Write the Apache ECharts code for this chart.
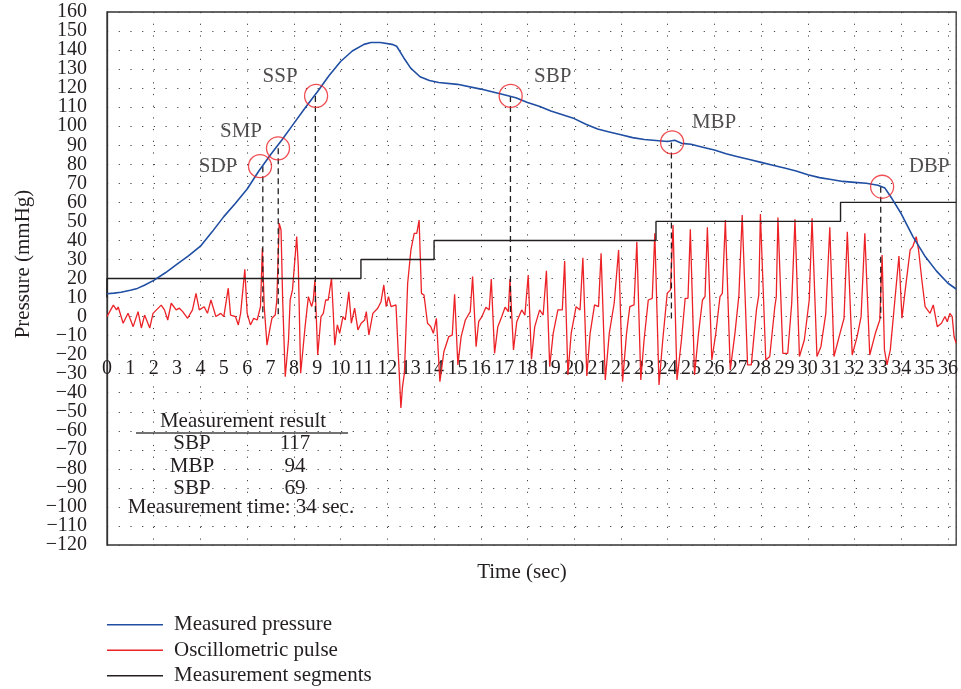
<!DOCTYPE html>
<html>
<head>
<meta charset="utf-8">
<script src="https://cdn.jsdelivr.net/npm/echarts@6/dist/echarts.min.js"></script>
<style>html,body{margin:0;padding:0;background:#fff;}#chart{width:961px;height:689px;}</style>
</head>
<body>
<div id="chart"></div>
<script>
// ---- data ----
const measuredPressure = [[0,12],[0.3,12.3],[0.6,12.8],[1,13.8],[1.3,14.8],[1.6,16.5],[2,19],[2.5,23],[3,27.5],[3.5,32],[4,37],[4.5,44.5],[5,52.5],[5.5,59.5],[6,67],[6.5,76.5],[7,85],[7.5,93],[8,101.5],[8.5,110],[9,118],[9.5,126.5],[10,134],[10.5,139.5],[11,143],[11.3,144],[11.7,144],[12.2,143],[12.4,142],[12.7,136],[13,130.5],[13.4,126],[13.8,124],[14.2,123],[15,122],[16,119.5],[17,116.5],[17.5,115],[18,112.5],[18.5,110.5],[19,108],[19.5,106],[20,104],[20.5,101],[21,98.5],[21.5,97],[22,95.5],[22.5,94],[23,93],[23.5,92.5],[24,92],[24.3,92.6],[24.6,91],[25,90.5],[25.5,89],[26,87.5],[26.5,85.5],[27,84],[27.5,82.5],[28,81],[28.5,79.5],[29,78],[29.5,76.5],[30,74.5],[30.5,73],[31,72],[31.5,71],[32,70.5],[32.5,70],[33,69],[33.3,67.5],[33.6,62],[34,54],[34.5,42],[35,32],[35.5,24],[36,17.5],[36.35,14.5]];

const oscillometricPulse = [[0,0],[0.27,6],[0.41,3.5],[0.48,5],[0.69,-3.5],[0.9,1.7],[1.12,-5.3],[1.33,2.6],[1.47,-6],[1.61,0.8],[1.83,-6],[1.97,1.7],[2.32,6],[2.46,3.5],[2.6,-1.8],[2.75,7],[2.96,3.5],[3.1,4.4],[3.24,2.6],[3.45,-0.9],[3.66,3.5],[3.81,12.2],[3.95,3.5],[4.16,5.2],[4.3,1.7],[4.45,8.7],[4.66,0],[4.87,1.7],[5.0,0],[5.19,14.9],[5.29,0.8],[5.5,0],[5.62,-4.4],[5.72,1.7],[5.9,24.8],[6.0,1.7],[6.14,-4.4],[6.28,-0.9],[6.43,-1.8],[6.57,5.2],[6.65,35.9],[6.73,5.2],[6.85,-15],[6.99,-5.3],[7.06,-0.9],[7.2,0.8],[7.27,8.7],[7.37,49],[7.45,45.5],[7.52,8.7],[7.63,-31.6],[7.77,-12.3],[7.84,8.7],[7.94,14],[8.02,14],[8.12,42],[8.19,26.2],[8.29,-29.8],[8.48,-5.3],[8.62,10.5],[8.76,5.2],[8.83,8.7],[8.9,19.2],[9.02,-20.2],[9.16,0],[9.26,1.7],[9.36,8.7],[9.47,8.7],[9.61,20.1],[9.68,3.5],[9.75,-15],[9.86,-4.4],[9.96,-8.8],[10.1,0],[10.2,-1.8],[10.35,13],[10.46,-3.5],[10.6,4.4],[10.74,-7],[10.88,-3.5],[11.03,-1.8],[11.1,2.6],[11.21,-9.7],[11.38,1.7],[11.59,4.4],[11.73,7.8],[11.85,16.6],[11.95,5.2],[12.05,10.5],[12.16,5.2],[12.37,6.1],[12.51,-29.8],[12.58,-48],[12.65,-36.8],[12.73,-29.8],[12.87,17.5],[13.01,35],[13.15,43.7],[13.26,43.7],[13.36,50.7],[13.46,12.2],[13.57,11.3],[13.72,-3.5],[13.86,-5.3],[13.97,-8.8],[14.1,-0.9],[14.25,-34.2],[14.42,-18.5],[14.63,-10.5],[14.78,-9.7],[14.88,11.7],[15.02,-25.4],[15.16,-10.5],[15.34,-1.8],[15.55,2.6],[15.65,21],[15.8,-15.8],[15.91,-2.7],[16.05,0],[16.22,4.9],[16.36,3.5],[16.45,19.7],[16.59,-19.3],[16.73,-5.3],[16.9,0],[17.04,4.9],[17.18,2.6],[17.25,19.7],[17.4,-17.5],[17.54,-2.7],[17.75,3.5],[17.89,0.8],[18.03,21.8],[18.17,-22.4],[18.31,-5.3],[18.52,3.5],[18.67,0.8],[18.81,24.1],[18.95,-26.3],[19.1,-8.8],[19.3,3.5],[19.49,3.5],[19.59,29.2],[19.73,-30.7],[19.87,-8.8],[20.08,5.2],[20.25,3.5],[20.37,30.9],[20.54,-31.2],[20.68,-8.8],[20.87,6.1],[21.04,5.2],[21.15,33.2],[21.33,-33.3],[21.5,-8.8],[21.71,7],[21.78,7.8],[21.9,35],[22.07,-34.2],[22.24,-8.8],[22.38,5.2],[22.56,6.1],[22.68,39.3],[22.85,-33.3],[22.99,-12.3],[23.17,8.7],[23.34,9.6],[23.45,43.7],[23.63,-35.9],[23.79,-12.3],[23.98,12.2],[24.12,14],[24.23,48.1],[24.4,-33.3],[24.59,-12.3],[24.75,9.6],[24.87,9.6],[24.97,45.8],[25.15,-30.7],[25.32,-8.8],[25.49,8.7],[25.6,10.5],[25.7,46.9],[25.89,-22.8],[26.06,-8.8],[26.24,10.5],[26.34,12.2],[26.47,50.7],[26.68,-28],[26.88,-8.8],[27.05,11.3],[27.19,53.4],[27.42,-25.4],[27.58,-25.4],[27.8,3.5],[27.9,11.3],[27.97,53.9],[28.2,-22.8],[28.37,-21],[28.58,4.4],[28.65,10.5],[28.72,52],[28.93,-19.3],[29.14,-19.3],[29.31,7],[29.45,51.1],[29.64,-21],[29.85,-12.3],[30.06,8.7],[30.18,51.6],[30.39,-21],[30.56,-15.8],[30.77,1.7],[30.94,46.9],[31.12,-21],[31.34,-10.5],[31.55,-0.9],[31.69,44.6],[31.9,-20.2],[32.11,-10.5],[32.28,0],[32.44,43.7],[32.65,-20.2],[32.89,-8.8],[33.08,-1.8],[33.18,32.4],[33.28,-17.5],[33.39,-25.4],[33.53,-17.5],[33.7,5.2],[33.9,31.8],[34.03,-0.9],[34.17,14],[34.38,35],[34.49,36.7],[34.64,42],[34.74,35],[34.88,19.2],[35.02,5.2],[35.23,1.7],[35.37,6.1],[35.54,-5.3],[35.72,-3.5],[35.87,0],[35.97,-2.7],[36.08,1.7],[36.18,0],[36.26,-10.5],[36.35,-14]];

const segmentTimes = [0, 10.87, 14.0, 23.5, 31.4, 36.35];
const segmentLevels = [20, 30, 40, 50, 60];
const segmentStart = 10;

const markerNames = ['SDP','SMP','SSP','SBP','MBP','DBP'];
const markerTimes = [6.55, 7.32, 8.95, 17.28, 24.19, 33.18];
const markerPressures = [79, 88.4, 115.9, 115.9, 91.5, 68.2];
const dropTimes = [6.67, 7.33, 8.92, 17.27, 24.16, 33.12];
const dropBottom = -1;

const resultTitle = 'Measurement result';
const resultNames = ['SBP','MBP','SBP'];
const resultValues = [117, 94, 69];
const resultTime = 'Measurement time: 34 sec.';

const xTickStep = 1, xGridStep = 2, yTickStep = 10;
const xMin = 0, xMax = 36.35, yMin = -120, yMax = 160;

// ---- styles ----
const FONT = '"Liberation Serif", "DejaVu Serif", serif';
const TXT = '#231f20';
const BLUE = '#1f4ea3';
const RED = '#ec2227';
const BLACK = '#231f20';
const labelOffsets = [[-42,0],[-37,-17],[-36,-19],[42,-19],[42,-20],[47,-20]];

const segData = [[segmentTimes[0], segmentStart]];
segmentLevels.forEach((lv, i) => {
  segData.push([segmentTimes[i], lv]);
  segData.push([segmentTimes[i+1], lv]);
  if (i + 1 < segmentLevels.length) segData.push([segmentTimes[i+1], segmentLevels[i+1]]);
});

const dropSeries = dropTimes.map((t, i) => ({
  type: 'line', symbol: 'none', silent: true, z: 4,
  data: [[t, markerPressures[i]], [t, dropBottom]],
  lineStyle: { color: BLACK, width: 1.3, type: [6, 4] }
}));

const chart = echarts.init(document.getElementById('chart'), null, { renderer: 'canvas' });
const rowsY = [443, 466, 488];
const graphics = [
  { type: 'text', x: 23, y: 264, rotation: Math.PI / 2,
    style: { text: 'Pressure (mmHg)', font: '21px ' + FONT, fill: TXT, textAlign: 'center', textVerticalAlign: 'middle' } },
  { type: 'text', x: 522, y: 572,
    style: { text: 'Time (sec)', font: '21px ' + FONT, fill: TXT, textAlign: 'center', textVerticalAlign: 'middle' } },
  { type: 'text', x: 243, y: 421, z: 10,
    style: { text: resultTitle, font: '21px ' + FONT, fill: TXT, textAlign: 'center', textVerticalAlign: 'middle' } },
  { type: 'line', shape: { x1: 136, y1: 433, x2: 348, y2: 433 }, z: 10, style: { stroke: '#444', lineWidth: 1.3 } },
  { type: 'text', x: 241, y: 507, z: 10,
    style: { text: resultTime, font: '21px ' + FONT, fill: TXT, textAlign: 'center', textVerticalAlign: 'middle' } }
];
resultNames.forEach((n, i) => {
  graphics.push({ type: 'text', x: 192, y: rowsY[i], z: 10,
    style: { text: n, font: '21px ' + FONT, fill: TXT, textAlign: 'center', textVerticalAlign: 'middle' } });
  graphics.push({ type: 'text', x: 295, y: rowsY[i], z: 10,
    style: { text: String(resultValues[i]), font: '21px ' + FONT, fill: TXT, textAlign: 'center', textVerticalAlign: 'middle' } });
});

const yFmt = v => String(v).replace('-', '\u2212');
const yLabelBase = { margin: 20, fontSize: 20, fontFamily: FONT, color: TXT };

const option = {
  animation: false,
  backgroundColor: '#fff',
  textStyle: { fontFamily: FONT },
  grid: { left: 107, right: -2, top: 12, bottom: 144, show: true, borderColor: '#333', borderWidth: 1.3, containLabel: false },
  legend: {
    data: ['Measured pressure', 'Oscillometric pulse', 'Measurement segments'],
    orient: 'vertical', left: 107, top: 612, padding: 0, itemWidth: 56, itemHeight: 1.5, itemGap: 0,
    icon: 'path://M0,0H56V1.5H0Z',
    textStyle: { fontFamily: FONT, fontSize: 21, color: TXT, lineHeight: 25.5, padding: [0, 0, 0, 6] }
  },
  xAxis: [
    { type: 'value', min: xMin, max: xMax, interval: xTickStep, position: 'bottom', offset: -190,
      axisLine: { show: false, onZero: false }, axisTick: { show: false }, splitLine: { show: false },
      axisLabel: { margin: 4, fontSize: 20, fontFamily: FONT, color: TXT, showMaxLabel: false, showMinLabel: true,
        formatter: v => (Math.abs(v - Math.round(v)) < 1e-6 ? String(Math.round(v)) : '') } },
    { type: 'value', min: xMin, max: xMax, interval: xGridStep, position: 'top',
      axisLine: { show: false, onZero: false }, axisTick: { show: false }, axisLabel: { show: false },
      splitLine: { show: true, lineStyle: { color: '#444', width: 1, type: [1.2, 10.5] } } }
  ],
  yAxis: [
    { type: 'value', min: yMin, max: yMax, interval: yTickStep, position: 'left',
      axisLine: { show: true, onZero: false, lineStyle: { color: '#333', width: 1.3 } }, axisTick: { show: false },
      splitLine: { show: true, lineStyle: { color: '#444', width: 1, type: [1.2, 10.5] } },
      axisLabel: Object.assign({ showMinLabel: false, showMaxLabel: false, formatter: yFmt }, yLabelBase) },
    { type: 'value', min: yMin, max: yMax, interval: yTickStep, position: 'left',
      axisLine: { show: false, onZero: false }, axisTick: { show: false }, splitLine: { show: false },
      axisLabel: Object.assign({ showMinLabel: true, showMaxLabel: true,
        formatter: v => (v === yMin || v === yMax ? yFmt(v) : '') }, yLabelBase) }
  ],
  graphic: graphics,
  series: [
    { name: 'Measurement segments', type: 'line', symbol: 'none', z: 3, data: segData,
      lineStyle: { color: BLACK, width: 1.4 }, itemStyle: { color: BLACK } },
    { name: 'Oscillometric pulse', type: 'line', symbol: 'none', z: 2, data: oscillometricPulse,
      lineStyle: { color: RED, width: 1.3 }, itemStyle: { color: RED } },
    { name: 'Measured pressure', type: 'line', symbol: 'none', z: 5, data: measuredPressure,
      lineStyle: { color: BLUE, width: 1.6 }, itemStyle: { color: BLUE } },
    ...dropSeries,
    { type: 'scatter', z: 6, symbol: 'circle', symbolSize: 23,
      itemStyle: { color: 'rgba(0,0,0,0)', borderColor: RED, borderWidth: 1.3 },
      label: { show: true, position: 'inside', formatter: p => p.name, fontSize: 21, fontFamily: FONT, color: TXT },
      data: markerNames.map((n, i) => ({ name: n, value: [markerTimes[i], markerPressures[i]], label: { offset: labelOffsets[i] } })) }
  ]
};
chart.setOption(option);
</script>
</body>
</html>
